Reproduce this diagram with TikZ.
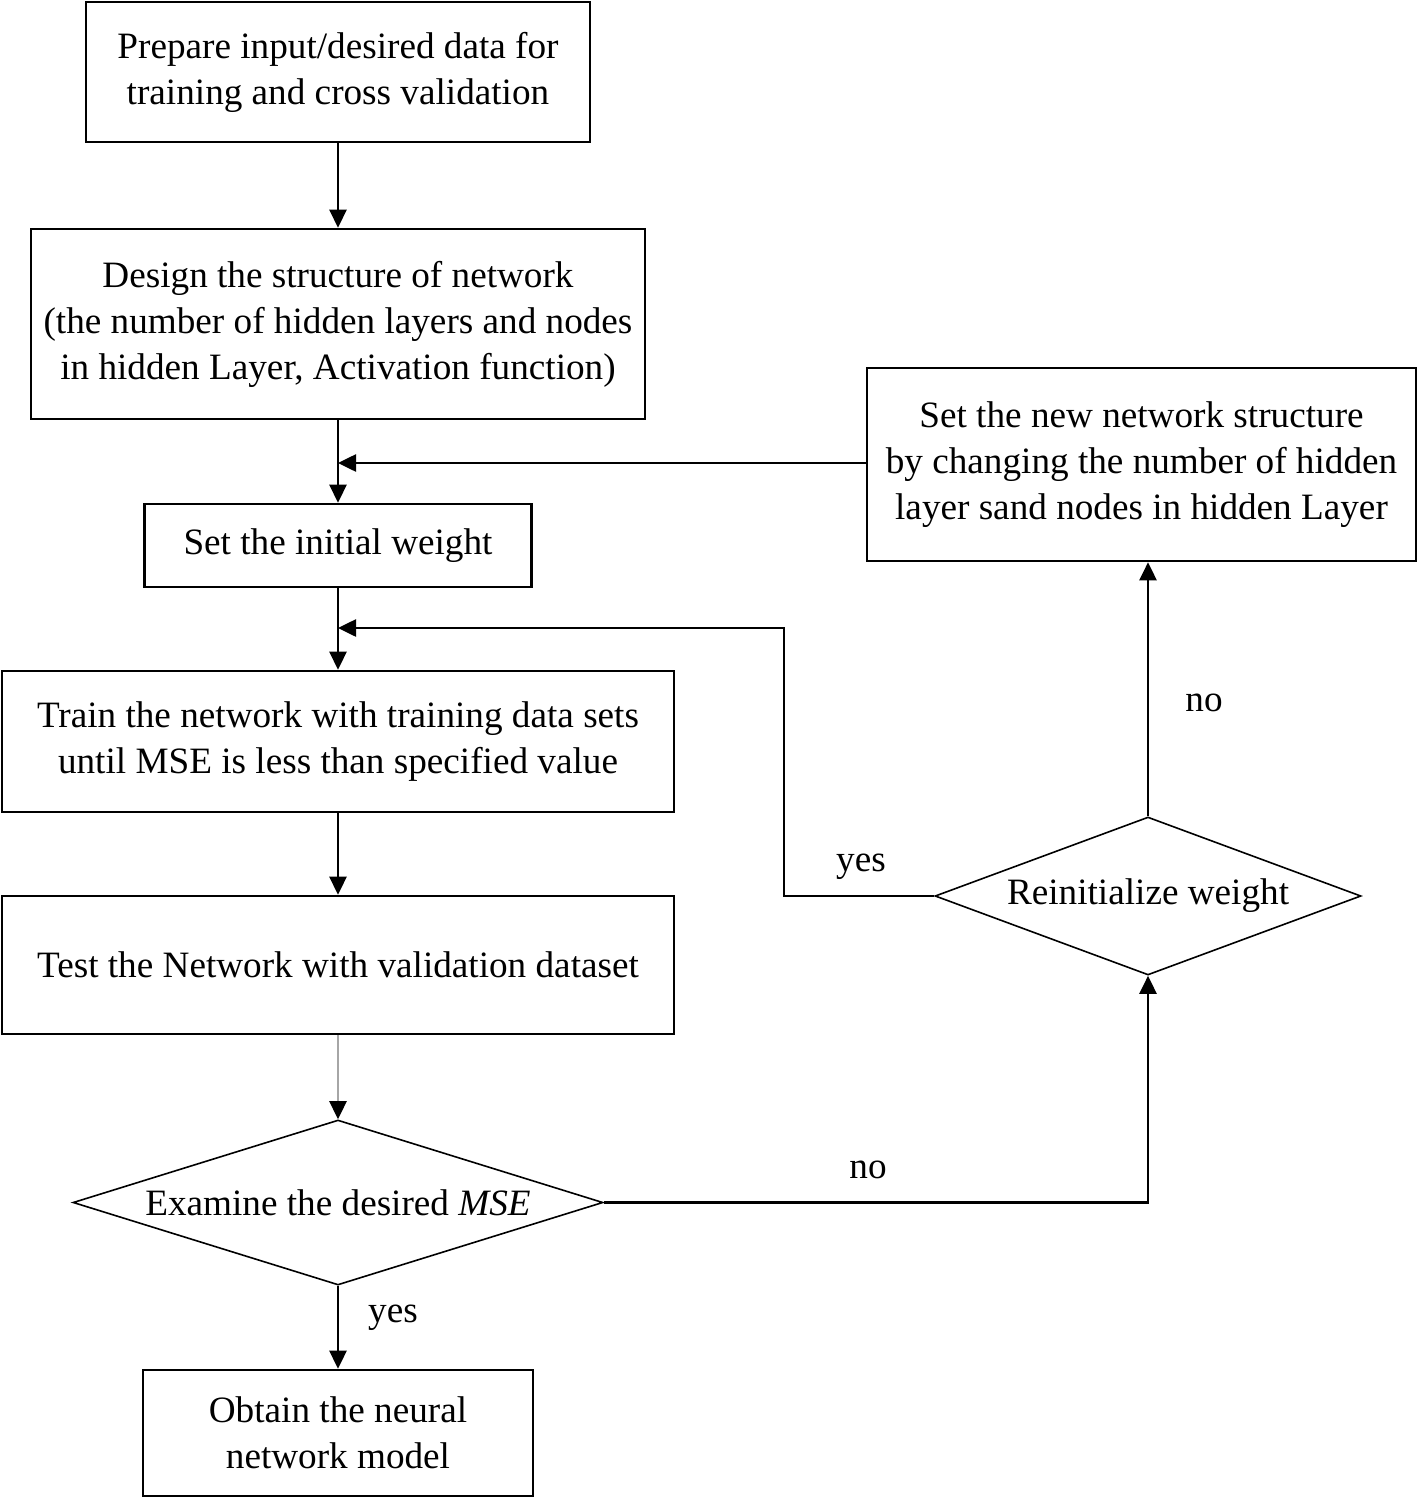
\documentclass[tikz,border=0pt]{standalone}
\usepackage{fontspec}
\setmainfont{Liberation Serif}
\usetikzlibrary{arrows.meta,shapes.geometric}
\begin{document}
\begin{tikzpicture}[x=0.5pt,y=-0.5pt,
  every node/.style={font=\fontsize{18.6}{23}\selectfont},
  box/.style={draw,line width=1.3pt,inner sep=0pt,align=center},
  dia/.style={draw,diamond,line width=0.8pt,inner sep=0pt},
  arr/.style={line width=1.3pt,-{Triangle[length=9pt,width=8.5pt]}},
  lab/.style={inner sep=0pt}]
\useasboundingbox (0,0) rectangle (1418,1498);
\node[box,minimum width=252pt,minimum height=70pt] (prep) at (338,72) {Prepare input/desired data for\\training and cross validation};
\node[box,minimum width=307pt,minimum height=95pt] (design) at (338,324) {Design the structure of network\\(the number of hidden layers and nodes\\in hidden Layer, Activation function)};
\node[box,minimum width=193.5pt,minimum height=41.5pt] (init) at (338,545.5) {Set the initial weight};
\node[box,minimum width=336pt,minimum height=70.5pt] (train) at (338,741.5) {Train the network with training data sets\\until MSE is less than specified value};
\node[box,minimum width=336pt,minimum height=69pt] (test) at (338,965) {Test the Network with validation dataset};
\node[dia,minimum width=265pt,minimum height=82.5pt,label={center:Examine the desired \textit{MSE}}] (exam) at (338,1202.5) {};
\node[box,minimum width=195pt,minimum height=63pt] (obtain) at (338,1433) {Obtain the neural\\network model};
\node[box,minimum width=274.5pt,minimum height=96.5pt] (newnet) at (1141.5,464.5) {Set the new network structure\\by changing the number of hidden\\layer sand nodes in hidden Layer};
\node[dia,minimum width=213pt,minimum height=79pt,label={center:Reinitialize weight}] (reinit) at (1148,896) {};

\coordinate (j1) at (338,463);
\coordinate (j2) at (338,628);
\coordinate (c1) at (784,896);
\coordinate (c2) at (784,628);
\coordinate (c3) at (1148,1202.5);

\draw[arr] (prep) -- (design);
\draw[arr] (design) -- (init);
\draw[arr] (newnet.west |- j1) -- (j1);
\draw[arr] (init) -- (train);
\draw[arr] (reinit.west) -- (c1) -- (c2) -- (j2);
\draw[arr] (train) -- (test);
\draw[line width=1.3pt,draw=black!35,-{Triangle[length=9pt,width=8.5pt,color=black,fill=black]}] (test) -- (exam.north);
\draw[arr] (exam.south) -- (obtain);
\draw[arr] (exam.east) -- (c3) -- (reinit.south);
\draw[arr] (reinit.north) -- (reinit.north |- newnet.south);

\node[lab] (l1) at (393,1318) {yes};
\node[lab] (l2) at (868,1170) {no};
\node[lab] (l3) at (861,867) {yes};
\node[lab] (l4) at (1204,703) {no};
\end{tikzpicture}
\end{document}
